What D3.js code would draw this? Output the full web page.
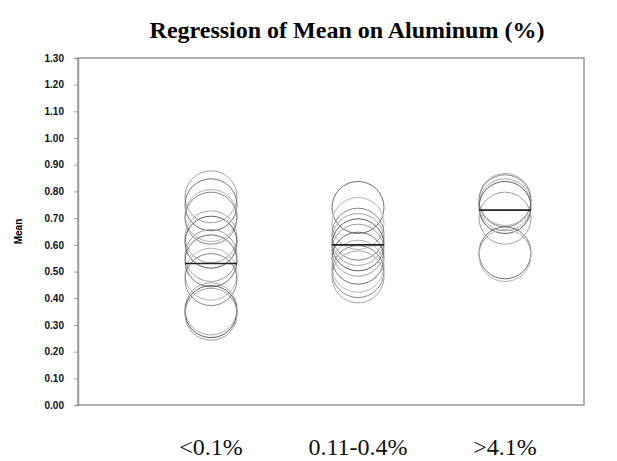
<!DOCTYPE html>
<html><head><meta charset="utf-8">
<script src="https://cdn.jsdelivr.net/npm/d3@7"></script>
<style>body{margin:0;background:#fff}</style>
</head><body>
<svg id="c" width="617" height="461"></svg>
<script>
const categories = ["<0.1%", "0.11-0.4%", ">4.1%"];
const groupLow = [0.78, 0.75, 0.71, 0.70, 0.63, 0.61, 0.56, 0.54, 0.49, 0.47, 0.36, 0.35, 0.34];
const groupMid = [0.74, 0.68, 0.64, 0.62, 0.60, 0.58, 0.55, 0.52, 0.50, 0.48];
const groupHigh = [0.77, 0.765, 0.75, 0.74, 0.70, 0.57, 0.56];
const fitted = [0.53, 0.60, 0.73];
const yTicks = [0,0.1,0.2,0.3,0.4,0.5,0.6,0.7,0.8,0.9,1.0,1.1,1.2,1.3];
const title = "Regression of Mean on Aluminum (%)";
const yLabel = "Mean";

const groups = [groupLow, groupMid, groupHigh];
const svg = d3.select("#c");
const L = 78, R = 584, T = 58, B = 405;
const x = d3.scalePoint().domain(categories).range([211, 505]);
const y = d3.scaleLinear().domain([0, 1.3]).range([B, T]);
const r = 26;

svg.append("text").attr("x", 347).attr("y", 38).attr("text-anchor", "middle")
  .attr("font-family", "Liberation Serif, Times New Roman, serif").attr("font-weight", "bold")
  .attr("font-size", 24).text(title);

// frame
svg.append("rect").attr("x", L).attr("y", T).attr("width", R - L).attr("height", B - T)
  .attr("fill", "none").attr("stroke", "#9a9a9a").attr("stroke-width", 1.5);

// y axis
const yAxis = d3.axisLeft(y).tickValues(yTicks).tickFormat(d3.format(".2f")).tickSize(4).tickPadding(10);
const ga = svg.append("g").attr("transform", `translate(${L},0)`).call(yAxis);
ga.select(".domain").attr("stroke", "#9a9a9a").attr("stroke-width", 1.5);
ga.selectAll(".tick line").attr("stroke", "#9a9a9a");
ga.selectAll(".tick text").attr("font-family", "Liberation Sans, Arial, sans-serif")
  .attr("font-weight", "bold").attr("font-size", 10).attr("fill", "#111");

svg.append("text").attr("transform", `translate(22,${(T + B) / 2}) rotate(-90)`)
  .attr("text-anchor", "middle").attr("font-family", "Liberation Sans, Arial, sans-serif")
  .attr("font-weight", "bold").attr("font-size", 10).text(yLabel);

// x labels
svg.selectAll(".xl").data(categories).enter().append("text")
  .attr("x", d => x(d)).attr("y", 455).attr("text-anchor", "middle")
  .attr("font-family", "Liberation Serif, Times New Roman, serif").attr("font-size", 24)
  .attr("fill", "#111").text(d => d);

// circles
const shades = ["#a0a0a0", "#707070", "#b4b4b4", "#888888", "#a8a8a8", "#606060"];
groups.forEach((vals, gi) => {
  svg.append("g").selectAll("circle").data(vals).enter().append("circle")
    .attr("cx", x(categories[gi])).attr("cy", d => y(d)).attr("r", r)
    .attr("fill", "none").attr("stroke", (d, i) => shades[(i + gi) % shades.length])
    .attr("stroke-width", 1);
});

// fitted lines
svg.selectAll(".fit").data(fitted).enter().append("line")
  .attr("x1", (d, i) => x(categories[i]) - r).attr("x2", (d, i) => x(categories[i]) + r)
  .attr("y1", d => y(d)).attr("y2", d => y(d))
  .attr("stroke", "#222").attr("stroke-width", 1.6);
</script>
</body></html>
